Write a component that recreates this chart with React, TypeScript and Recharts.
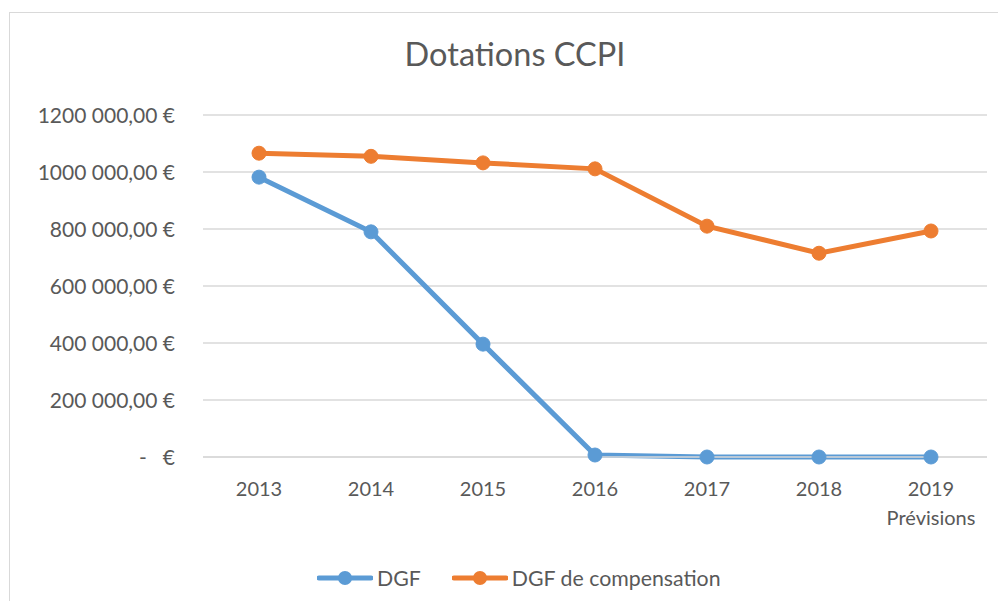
import { LineChart, Line, XAxis, YAxis, CartesianGrid } from 'recharts'

const years = ['2013', '2014', '2015', '2016', '2017', '2018', '2019']
const yearNotes = ['', '', '', '', '', '', 'Prévisions']
const dgf = [982000, 790000, 396000, 7000, 0, 0, 0]
const dgfCompensation = [1066000, 1055000, 1032000, 1011000, 810000, 715000, 793000]
const yTicks = [0, 200000, 400000, 600000, 800000, 1000000, 1200000]

const series = [
    { key: 'dgf', name: 'DGF', color: '#5B9BD5' },
    { key: 'comp', name: 'DGF de compensation', color: '#ED7D31' },
]

const data = years.map((y, i) => ({
    year: y,
    note: yearNotes[i],
    dgf: dgf[i],
    comp: dgfCompensation[i],
}))

const FONT = 'Lato, "Liberation Sans", sans-serif'
const TEXT = '#595959'

function euro(v: number) {
    if (v === 0) return '-   €'
    const thousands = Math.floor(v / 1000)
    const rest = String(v % 1000).padStart(3, '0')
    return `${thousands} ${rest},00 €`
}

function YTick(props: any) {
    const { y, payload } = props
    return (
        <text x={175} y={y} dy="0.36em" textAnchor="end" fill={TEXT} fontSize={21} fontFamily={FONT} style={{ whiteSpace: 'pre' }}>
            {euro(payload.value)}
        </text>
    )
}

function XTick(props: any) {
    const { x, payload } = props
    const note = yearNotes[payload.index]
    return (
        <g>
            <text x={x} y={489} dy="0.36em" textAnchor="middle" fill={TEXT} fontSize={20} fontFamily={FONT}>
                {payload.value}
            </text>
            {note && (
                <text x={x} y={518} dy="0.36em" textAnchor="middle" fill={TEXT} fontSize={20} fontFamily={FONT}>
                    {note}
                </text>
            )}
        </g>
    )
}

export default function App() {
    return (
        <div style={{ position: 'relative', width: 1006, height: 609, margin: -8, overflow: 'hidden', background: '#fff' }}>
            <div style={{ position: 'absolute', left: 9, top: 12, width: 1010, height: 620, border: '1.5px solid #D9D9D9', boxSizing: 'border-box' }} />
            <div style={{ position: 'absolute', left: 9, width: 1012, top: 34, textAlign: 'center', fontFamily: FONT, fontSize: 32.5, color: TEXT, lineHeight: '40px' }}>
                Dotations CCPI
            </div>
            <div style={{ position: 'absolute', left: 0, top: 0 }}>
                <LineChart width={1006} height={609} data={data} margin={{ top: 115, right: 19, bottom: 92, left: 0 }}>
                    <CartesianGrid vertical={false} stroke="#D9D9D9" strokeWidth={1.5} />
                    <XAxis dataKey="year" axisLine={{ stroke: '#D9D9D9', strokeWidth: 1.5 }} tickLine={false} padding={{ left: 56, right: 56 }} tick={<XTick />} interval={0} height={60} />
                    <YAxis width={203} domain={[0, 1200000]} ticks={yTicks} axisLine={false} tickLine={false} tick={<YTick />} interval={0} />
                    {series.map(s => (
                        <Line
                            key={s.key}
                            type="linear"
                            dataKey={s.key}
                            name={s.name}
                            stroke={s.color}
                            strokeWidth={5}
                            dot={{ r: 7, fill: s.color, stroke: s.color, strokeWidth: 1 }}
                            isAnimationActive={false}
                        />
                    ))}
                </LineChart>
            </div>
            <div style={{ position: 'absolute', left: 0, top: 564, width: 1006, display: 'flex', justifyContent: 'flex-start', paddingLeft: 317, boxSizing: 'border-box', fontFamily: FONT, fontSize: 21.3, color: TEXT }}>
                {series.map(s => (
                    <div key={s.key} style={{ display: 'flex', alignItems: 'center', marginRight: 31, height: 28 }}>
                        <svg width={56} height={16} style={{ marginRight: 4 }}>
                            <line x1={2} y1={8} x2={54} y2={8} stroke={s.color} strokeWidth={5} strokeLinecap="round" />
                            <circle cx={28} cy={8} r={7} fill={s.color} />
                        </svg>
                        <span>{s.name}</span>
                    </div>
                ))}
            </div>
        </div>
    )
}
